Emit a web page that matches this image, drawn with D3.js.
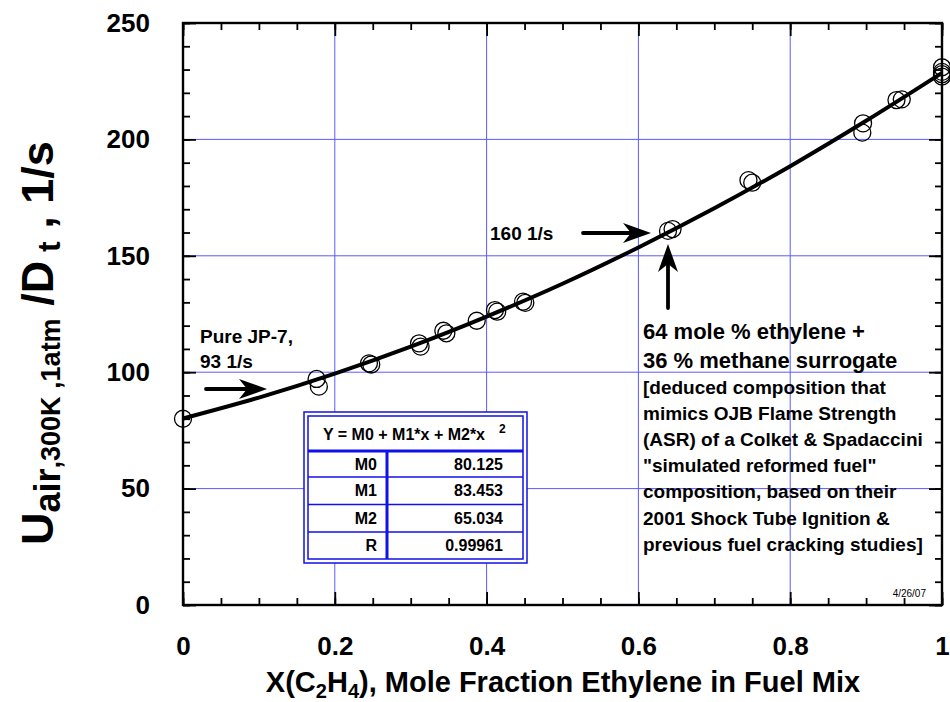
<!DOCTYPE html>
<html>
<head>
<meta charset="utf-8">
<script src="https://cdnjs.cloudflare.com/ajax/libs/d3/7.8.5/d3.min.js"></script>
<style>
  body { margin: 0; background: #fff; }
  svg text { font-family: "Liberation Sans", Arial, sans-serif; font-weight: bold; }
</style>
</head>
<body>
<div id="container"></div>
<script>
// measured points (mole fraction ethylene, flame strength 1/s)
const moleFrac = [0, 0.176, 0.179, 0.245, 0.248, 0.311, 0.313, 0.343, 0.347, 0.387, 0.411, 0.414,
                  0.448, 0.451, 0.639, 0.645, 0.745, 0.750, 0.895, 0.896, 0.940, 0.947, 1, 1, 1, 1];
const strength = [80, 97.1, 93.8, 103.8, 103.3, 112.4, 111.0, 117.8, 116.7, 122.1, 126.7, 126.0,
                  130.3, 129.8, 160.7, 161.5, 182.5, 181.4, 202.9, 206.9, 216.9, 217.2, 231, 229, 227, 228];
// fitted curve
const fitX = [0, 0.1, 0.2, 0.3, 0.4, 0.5, 0.6, 0.7, 0.8, 0.9, 1.0];
const fitY = [80.1, 89.1, 99.4, 111.0, 123.9, 138.0, 153.6, 170.4, 188.5, 208.0, 228.6];
// fit table
const fitNames = ['M0', 'M1', 'M2', 'R'];
const fitValues = ['80.125', '83.453', '65.034', '0.99961'];
// ticks
const xTicks = [0, 0.2, 0.4, 0.6, 0.8, 1];
const xTickLabels = ['0', '0.2', '0.4', '0.6', '0.8', '1'];
const yTicks = [0, 50, 100, 150, 200, 250];
const noteLines = ['[deduced composition that', 'mimics OJB Flame Strength', '(ASR) of a Colket & Spadaccini',
                   '"simulated reformed fuel"', 'composition, based on their', '2001 Shock Tube Ignition &',
                   'previous fuel cracking studies]'];

const width = 950, height = 702;
const pLeft = 183, pRight = 942, pTop = 23, pBottom = 605;
const blue = '#1010e8', grid = '#5a5aff';

const svg = d3.select('#container').append('svg').attr('width', width).attr('height', height);
const x = d3.scaleLinear().domain([0, 1]).range([pLeft, pRight]);
const y = d3.scaleLinear().domain([0, 250]).range([pBottom, pTop]);

// grid
svg.append('g').selectAll('line').data(xTicks.slice(1, -1)).enter().append('line')
    .attr('x1', d => x(d)).attr('x2', d => x(d)).attr('y1', pTop).attr('y2', pBottom)
    .attr('stroke', grid).attr('stroke-width', 1);
svg.append('g').selectAll('line').data(yTicks.slice(1, -1)).enter().append('line')
    .attr('y1', d => y(d)).attr('y2', d => y(d)).attr('x1', pLeft).attr('x2', pRight)
    .attr('stroke', grid).attr('stroke-width', 1);

// ticks (inward on all four sides)
const xMinor = d3.range(0, 1.0001, 0.05), yMinor = d3.range(0, 250.1, 10);
function tickAxis(axis, scale, vals, size, tx, ty, fmt, pad) {
  const g = svg.append('g').attr('transform', `translate(${tx},${ty})`)
    .call(axis(scale).tickValues(vals).tickSizeInner(-size).tickSizeOuter(0)
      .tickPadding(pad || 0).tickFormat(fmt || (() => '')));
  g.select('.domain').remove();
  g.selectAll('line').attr('stroke', '#000').attr('stroke-width', 1.8);
  return g;
}
tickAxis(d3.axisBottom, x, xMinor, 7, 0, pBottom);
tickAxis(d3.axisTop, x, xMinor, 7, 0, pTop);
tickAxis(d3.axisLeft, y, yMinor, 7, pLeft, 0);
tickAxis(d3.axisRight, y, yMinor, 7, pRight, 0);
const xb = tickAxis(d3.axisBottom, x, xTicks, 13, 0, pBottom, (d, i) => xTickLabels[i], 32);
tickAxis(d3.axisTop, x, xTicks, 13, 0, pTop);
const yl = tickAxis(d3.axisLeft, y, yTicks, 13, pLeft, 0, d => d, 33);
tickAxis(d3.axisRight, y, yTicks, 13, pRight, 0);
xb.selectAll('text').attr('font-size', 26).attr('fill', '#000').style('font-weight', 'bold');
yl.selectAll('text').attr('font-size', 26).attr('fill', '#000').style('font-weight', 'bold');

svg.append('rect').attr('x', pLeft).attr('y', pTop).attr('width', pRight - pLeft).attr('height', pBottom - pTop)
    .attr('fill', 'none').attr('stroke', '#000').attr('stroke-width', 2.4);

// fit curve
const line = d3.line().x((d, i) => x(fitX[i])).y(d => y(d)).curve(d3.curveMonotoneX);
svg.append('path').datum(fitY).attr('d', line)
    .attr('fill', 'none').attr('stroke', '#000').attr('stroke-width', 4);

// points
svg.append('g').selectAll('circle').data(strength).enter().append('circle')
    .attr('cx', (d, i) => x(moleFrac[i])).attr('cy', d => y(d)).attr('r', 8.5)
    .attr('fill', 'none').attr('stroke', '#000').attr('stroke-width', 1.3);

// fit table
const tbl = svg.append('g');
tbl.append('rect').attr('x', 304).attr('y', 412).attr('width', 223).attr('height', 151)
    .attr('fill', '#fff').attr('stroke', blue).attr('stroke-width', 1.5);
tbl.append('rect').attr('x', 308).attr('y', 416).attr('width', 215).attr('height', 143)
    .attr('fill', 'none').attr('stroke', blue).attr('stroke-width', 1.5);
const rowTop = [451, 477, 504.5, 532];
tbl.append('line').attr('x1', 308).attr('x2', 523).attr('y1', 451).attr('y2', 451)
    .attr('stroke', blue).attr('stroke-width', 3);
tbl.selectAll('.rl').data(rowTop.slice(1)).enter().append('line')
    .attr('x1', 308).attr('x2', 523).attr('y1', d => d).attr('y2', d => d)
    .attr('stroke', blue).attr('stroke-width', 1.5);
tbl.append('line').attr('x1', 387).attr('x2', 387).attr('y1', 451).attr('y2', 559)
    .attr('stroke', blue).attr('stroke-width', 3);
const hdr = tbl.append('text').attr('x', 323).attr('y', 440).attr('font-size', 16);
hdr.append('tspan').text('Y = M0 + M1*x + M2*x');
hdr.append('tspan').attr('x', 499).attr('y', 433).attr('font-size', 12).text('2');
tbl.selectAll('.nm').data(fitNames).enter().append('text')
    .attr('x', 377).attr('y', (d, i) => rowTop[i] + 19).attr('text-anchor', 'end')
    .attr('font-size', 16).text(d => d);
tbl.selectAll('.vl').data(fitValues).enter().append('text')
    .attr('x', 503).attr('y', (d, i) => rowTop[i] + 19).attr('text-anchor', 'end')
    .attr('font-size', 16).text(d => d);

// arrows
function arrow(x1, y1, x2, y2) {
  const a = Math.atan2(y2 - y1, x2 - x1);
  const g = svg.append('g');
  g.append('line').attr('x1', x1).attr('y1', y1)
      .attr('x2', x2 - 14 * Math.cos(a)).attr('y2', y2 - 14 * Math.sin(a))
      .attr('stroke', '#000').attr('stroke-width', 3.8).attr('stroke-linecap', 'round');
  g.append('path').attr('d', 'M0,0 L-28,-10 L-20,0 L-28,10 Z')
      .attr('transform', `translate(${x2},${y2}) rotate(${a * 180 / Math.PI})`).attr('fill', '#000');
}
arrow(206, 389, 267, 389);
arrow(583, 233, 651, 233);
arrow(668, 308, 668, 244);

// annotations
svg.append('text').attr('x', 490).attr('y', 240).attr('font-size', 19).text('160 1/s');
svg.append('text').attr('x', 200).attr('y', 343).attr('font-size', 19).text('Pure JP-7,');
svg.append('text').attr('x', 200).attr('y', 368).attr('font-size', 19).text('93 1/s');
svg.append('text').attr('x', 643).attr('y', 339).attr('font-size', 22).text('64 mole % ethylene +');
svg.append('text').attr('x', 643).attr('y', 368).attr('font-size', 22).text('36 % methane surrogate');
svg.selectAll('.note').data(noteLines).enter().append('text')
    .attr('x', 643).attr('y', (d, i) => 394 + i * 26.1).attr('font-size', 19).text(d => d);
svg.append('text').attr('x', 926).attr('y', 597).attr('text-anchor', 'end')
    .attr('font-size', 10).style('font-weight', 'normal').text('4/26/07');

// axis titles
const xt = svg.append('text').attr('x', 563).attr('y', 692).attr('text-anchor', 'middle').attr('font-size', 29);
xt.append('tspan').text('X(C');
xt.append('tspan').attr('font-size', 20).attr('dy', 6).text('2');
xt.append('tspan').attr('dy', -6).text('H');
xt.append('tspan').attr('font-size', 20).attr('dy', 6).text('4');
xt.append('tspan').attr('dy', -6).text('), Mole Fraction Ethylene in Fuel Mix');

const yt = svg.append('text').attr('transform', 'translate(53,545) rotate(-90)').attr('font-size', 45);
yt.append('tspan').text('U');
yt.append('tspan').attr('font-size', 36).attr('dy', 7).text('air');
yt.append('tspan').attr('font-size', 27).text(',300K ,1atm');
yt.append('tspan').attr('dy', -7).text(' /D');
yt.append('tspan').attr('font-size', 32).attr('dy', 7).text(' t');
yt.append('tspan').attr('dy', -7).text(' ,  1/s');
</script>
</body>
</html>
